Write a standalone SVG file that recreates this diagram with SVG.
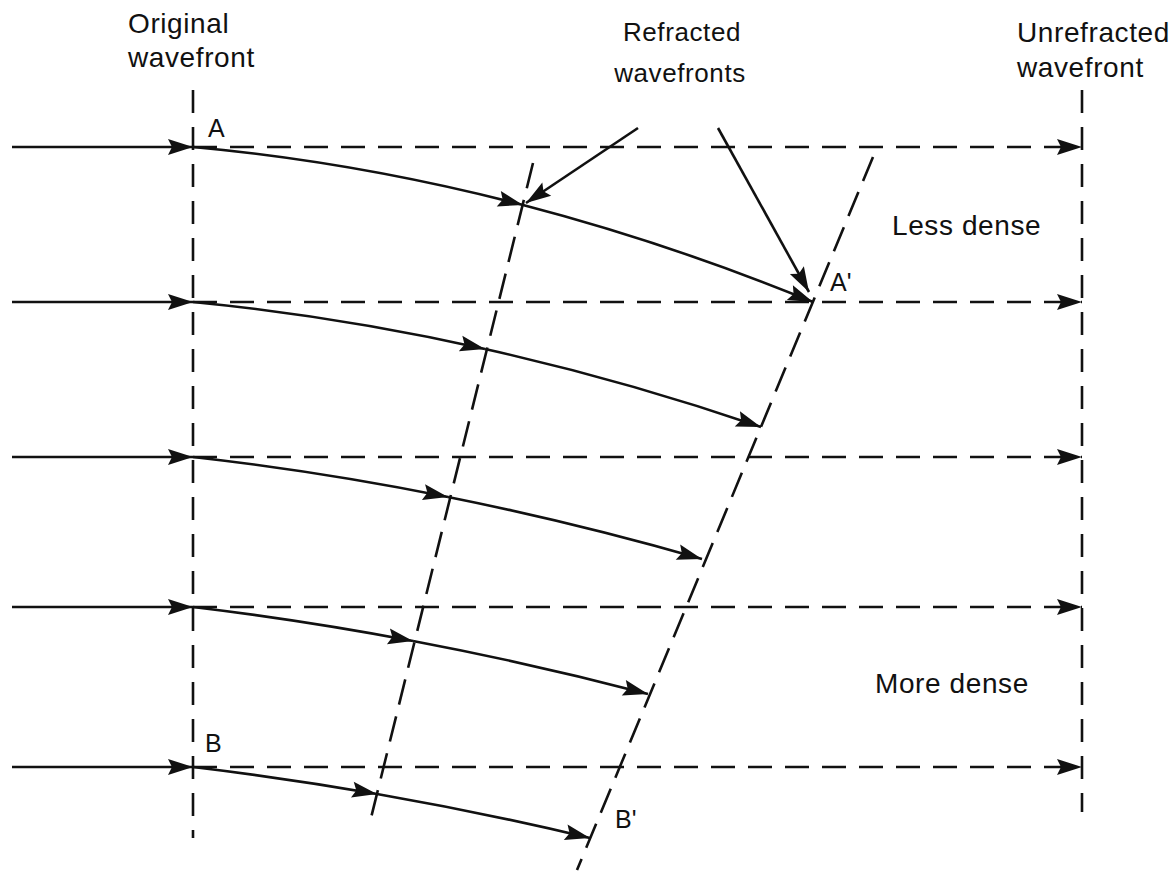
<svg xmlns="http://www.w3.org/2000/svg" width="1176" height="875" viewBox="0 0 1176 875">
<style>
  .ln{fill:none;stroke:#111;stroke-width:2.6}
  .sol{marker-end:url(#ah)}
  .hd{stroke-dasharray:24 13}
  .vd{stroke-dasharray:23 14}
  .sd{stroke-dasharray:26 12}
  .t{font-family:"Liberation Sans",Arial,Helvetica,sans-serif;font-size:28px;fill:#111;letter-spacing:0.6px}
  .pt{font-family:"Liberation Sans",Arial,Helvetica,sans-serif;font-size:25px;fill:#111}
</style>
<defs>
  <marker id="ah" markerUnits="userSpaceOnUse" markerWidth="30" markerHeight="18" refX="25" refY="8" orient="auto" overflow="visible">
    <path d="M0,0 L25,8 L0,16 L4,8 Z" fill="#111"/>
  </marker>
</defs>
<rect width="1176" height="875" fill="#fff"/>

<g id="connectors">
  <!-- wavefront lines -->
  <line class="ln vd" x1="193" y1="90" x2="193" y2="838"/>
  <line class="ln vd" x1="1082" y1="90" x2="1082" y2="812"/>
  <line class="ln sd" x1="533" y1="163" x2="369" y2="826"/>
  <line class="ln sd" x1="873" y1="157" x2="577" y2="870"/>
  <!-- incoming rays -->
  <line class="ln sol" x1="12" y1="147" x2="193" y2="147"/>
  <line class="ln sol" x1="12" y1="302" x2="193" y2="302"/>
  <line class="ln sol" x1="12" y1="457" x2="193" y2="457"/>
  <line class="ln sol" x1="12" y1="607" x2="193" y2="607"/>
  <line class="ln sol" x1="12" y1="767" x2="193" y2="767"/>
  <!-- unrefracted dashed rays -->
  <line class="ln hd sol" x1="193" y1="147" x2="1082" y2="147"/>
  <line class="ln hd sol" x1="193" y1="302" x2="1082" y2="302"/>
  <line class="ln hd sol" x1="193" y1="457" x2="1082" y2="457"/>
  <line class="ln hd sol" x1="193" y1="607" x2="1082" y2="607"/>
  <line class="ln hd sol" x1="193" y1="767" x2="1082" y2="767"/>
  <!-- refracted rays -->
  <path class="ln sol" d="M193,147 Q358,162.1 523,205"/>
  <path class="ln sol" d="M523,205 Q668,242.7 813,302"/>
  <path class="ln sol" d="M193,302 Q339,316.4 485,349"/>
  <path class="ln sol" d="M485,349 Q623,379.8 761,427"/>
  <path class="ln sol" d="M193,457 Q320.5,471.4 448,497"/>
  <path class="ln sol" d="M448,497 Q575,522.5 702,559"/>
  <path class="ln sol" d="M193,607 Q303,620.2 413,641"/>
  <path class="ln sol" d="M413,641 Q530.5,663.2 648,694"/>
  <path class="ln sol" d="M193,767 Q285,778 377,794"/>
  <path class="ln sol" d="M377,794 Q483.5,812.6 590,838"/>
  <!-- label pointers -->
  <line class="ln sol" x1="638" y1="128" x2="526" y2="203"/>
  <line class="ln sol" x1="718" y1="128" x2="809" y2="292"/>
</g>

<g id="label-original">
  <text class="t" x="128" y="33">Original</text>
  <text class="t" x="128" y="67">wavefront</text>
</g>
<g id="label-refracted">
  <text class="t" x="682" y="41" text-anchor="middle" style="font-size:26px">Refracted</text>
  <text class="t" x="680" y="82" text-anchor="middle" style="font-size:26px">wavefronts</text>
</g>
<g id="label-unrefracted">
  <text class="t" x="1017" y="42">Unrefracted</text>
  <text class="t" x="1017" y="77">wavefront</text>
</g>
<g id="label-less-dense">
  <text class="t" x="892" y="235">Less dense</text>
</g>
<g id="label-more-dense">
  <text class="t" x="875" y="693">More dense</text>
</g>
<g id="point-A"><text class="pt" x="208" y="137">A</text></g>
<g id="point-A-prime"><text class="pt" x="830" y="291">A'</text></g>
<g id="point-B"><text class="pt" x="205" y="752">B</text></g>
<g id="point-B-prime"><text class="pt" x="615" y="828">B'</text></g>
</svg>
